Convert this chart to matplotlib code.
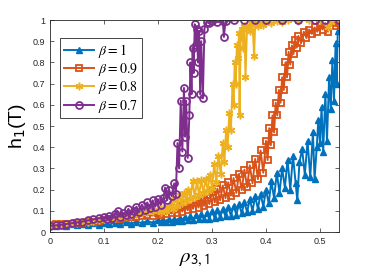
import matplotlib
matplotlib.use("Agg")
import matplotlib.pyplot as plt

# --- data ---
x_b1 = [0.000, 0.010, 0.020, 0.030, 0.040, 0.050, 0.060, 0.070, 0.080, 0.090, 0.100, 0.110,
        0.120, 0.130, 0.140, 0.150, 0.160, 0.170, 0.180, 0.190, 0.200, 0.205, 0.210, 0.215,
        0.220, 0.225, 0.230, 0.235, 0.240, 0.245, 0.250, 0.255, 0.260, 0.265, 0.270, 0.275,
        0.280, 0.285, 0.290, 0.295, 0.300, 0.305, 0.310, 0.315, 0.320, 0.325, 0.330, 0.335,
        0.340, 0.345, 0.350, 0.355, 0.360, 0.365, 0.370, 0.375, 0.380, 0.385, 0.390, 0.395,
        0.400, 0.405, 0.410, 0.415, 0.420, 0.425, 0.430, 0.435, 0.440, 0.445, 0.450, 0.455,
        0.458, 0.462, 0.467, 0.472, 0.477, 0.482, 0.487, 0.490, 0.494, 0.497, 0.500, 0.503,
        0.506, 0.510, 0.513, 0.517, 0.520, 0.523, 0.526, 0.529, 0.531, 0.533, 0.535]
y_b1 = [0.035, 0.030, 0.036, 0.031, 0.038, 0.032, 0.039, 0.034, 0.041, 0.035, 0.043, 0.037,
        0.045, 0.038, 0.048, 0.040, 0.050, 0.042, 0.053, 0.044, 0.056, 0.046, 0.058, 0.048,
        0.061, 0.050, 0.064, 0.052, 0.068, 0.054, 0.072, 0.056, 0.076, 0.058, 0.080, 0.060,
        0.086, 0.062, 0.092, 0.064, 0.098, 0.066, 0.104, 0.070, 0.110, 0.074, 0.118, 0.078,
        0.125, 0.082, 0.132, 0.088, 0.142, 0.094, 0.155, 0.100, 0.168, 0.110, 0.182, 0.120,
        0.200, 0.135, 0.240, 0.160, 0.280, 0.185, 0.300, 0.210, 0.340, 0.200, 0.360, 0.230,
        0.150, 0.330, 0.390, 0.270, 0.430, 0.260, 0.470, 0.250, 0.400, 0.530, 0.420, 0.590,
        0.380, 0.650, 0.430, 0.730, 0.580, 0.810, 0.620, 0.890, 0.700, 0.950, 1.000]

x_b09 = [0.000, 0.010, 0.020, 0.030, 0.040, 0.050, 0.060, 0.070, 0.080, 0.090, 0.100, 0.110,
         0.120, 0.130, 0.140, 0.150, 0.160, 0.170, 0.180, 0.190, 0.200, 0.205, 0.210, 0.215,
         0.220, 0.225, 0.230, 0.235, 0.240, 0.245, 0.250, 0.255, 0.260, 0.265, 0.270, 0.275,
         0.280, 0.285, 0.290, 0.295, 0.300, 0.305, 0.310, 0.315, 0.320, 0.325, 0.330, 0.335,
         0.340, 0.345, 0.350, 0.355, 0.360, 0.365, 0.370, 0.375, 0.380, 0.385, 0.390, 0.395,
         0.400, 0.403, 0.406, 0.409, 0.412, 0.415, 0.418, 0.421, 0.424, 0.427, 0.430, 0.433,
         0.436, 0.439, 0.442, 0.445, 0.448, 0.451, 0.454, 0.457, 0.460, 0.465, 0.470, 0.475,
         0.480, 0.485, 0.490, 0.495, 0.500, 0.505, 0.510, 0.515, 0.520, 0.525, 0.530, 0.535]
y_b09 = [0.035, 0.036, 0.038, 0.037, 0.040, 0.042, 0.044, 0.046, 0.049, 0.052, 0.056, 0.060,
         0.070, 0.062, 0.068, 0.072, 0.070, 0.076, 0.080, 0.078, 0.092, 0.080, 0.098, 0.084,
         0.104, 0.088, 0.112, 0.092, 0.120, 0.097, 0.128, 0.103, 0.138, 0.110, 0.150, 0.116,
         0.162, 0.124, 0.175, 0.132, 0.190, 0.140, 0.205, 0.150, 0.220, 0.160, 0.235, 0.172,
         0.255, 0.185, 0.275, 0.198, 0.295, 0.212, 0.315, 0.230, 0.345, 0.250, 0.385, 0.280,
         0.430, 0.340, 0.490, 0.410, 0.550, 0.470, 0.610, 0.550, 0.670, 0.610, 0.730, 0.670,
         0.800, 0.730, 0.850, 0.790, 0.880, 0.840, 0.905, 0.870, 0.925, 0.890, 0.945, 0.915,
         0.955, 0.935, 0.965, 0.945, 0.975, 0.955, 0.985, 0.945, 0.985, 0.990, 0.970, 1.000]

x_b08 = [0.000, 0.010, 0.020, 0.030, 0.040, 0.050, 0.060, 0.070, 0.080, 0.090, 0.100, 0.110,
         0.120, 0.130, 0.140, 0.150, 0.160, 0.170, 0.180, 0.190, 0.200, 0.205, 0.210, 0.215,
         0.220, 0.225, 0.228, 0.232, 0.236, 0.240, 0.244, 0.248, 0.252, 0.256, 0.260, 0.264,
         0.268, 0.272, 0.276, 0.280, 0.284, 0.288, 0.292, 0.296, 0.300, 0.304, 0.308, 0.312,
         0.316, 0.320, 0.323, 0.326, 0.329, 0.332, 0.335, 0.338, 0.340, 0.342, 0.344, 0.346,
         0.348, 0.350, 0.351, 0.353, 0.356, 0.358, 0.360, 0.362, 0.365, 0.370, 0.375, 0.378,
         0.380, 0.385, 0.390, 0.395, 0.400, 0.410, 0.420, 0.430, 0.440, 0.460, 0.480, 0.500,
         0.515, 0.520, 0.535]
y_b08 = [0.035, 0.036, 0.038, 0.040, 0.042, 0.045, 0.048, 0.050, 0.054, 0.057, 0.060, 0.064,
         0.068, 0.072, 0.076, 0.080, 0.085, 0.090, 0.095, 0.100, 0.105, 0.095, 0.112, 0.100,
         0.120, 0.150, 0.110, 0.160, 0.125, 0.175, 0.135, 0.185, 0.145, 0.200, 0.155, 0.240,
         0.165, 0.240, 0.175, 0.245, 0.185, 0.250, 0.195, 0.270, 0.210, 0.320, 0.235, 0.360,
         0.275, 0.420, 0.330, 0.480, 0.400, 0.560, 0.480, 0.700, 0.600, 0.800, 0.700, 0.880,
         0.820, 0.940, 0.550, 0.920, 0.960, 0.870, 0.970, 0.730, 0.975, 0.950, 0.985, 0.830,
         0.985, 0.970, 0.990, 0.975, 0.992, 0.985, 0.996, 0.990, 0.998, 0.995, 1.000, 0.998,
         0.965, 0.990, 1.000]

x_b07 = [0.000, 0.010, 0.020, 0.030, 0.040, 0.050, 0.060, 0.070, 0.080, 0.090, 0.100, 0.105,
         0.110, 0.115, 0.120, 0.125, 0.130, 0.135, 0.140, 0.145, 0.150, 0.155, 0.160, 0.165,
         0.170, 0.175, 0.180, 0.185, 0.190, 0.195, 0.200, 0.205, 0.210, 0.213, 0.217, 0.220,
         0.225, 0.230, 0.233, 0.236, 0.239, 0.242, 0.245, 0.248, 0.250, 0.252, 0.255, 0.258,
         0.260, 0.262, 0.264, 0.266, 0.268, 0.270, 0.272, 0.274, 0.276, 0.278, 0.280, 0.283,
         0.286, 0.290, 0.295, 0.300, 0.310, 0.320, 0.322, 0.325, 0.340, 0.360, 0.380, 0.400,
         0.430, 0.460, 0.490, 0.510, 0.535]
y_b07 = [0.030, 0.032, 0.035, 0.038, 0.042, 0.046, 0.050, 0.055, 0.060, 0.065, 0.070, 0.062,
         0.075, 0.066, 0.085, 0.100, 0.072, 0.090, 0.080, 0.110, 0.085, 0.100, 0.120, 0.095,
         0.130, 0.105, 0.140, 0.112, 0.150, 0.120, 0.155, 0.128, 0.160, 0.210, 0.150, 0.200,
         0.170, 0.230, 0.180, 0.420, 0.300, 0.620, 0.380, 0.680, 0.450, 0.620, 0.350, 0.550,
         0.800, 0.650, 0.870, 0.750, 0.980, 0.880, 0.960, 0.800, 0.950, 0.650, 0.900, 0.630,
         0.960, 0.990, 0.985, 0.995, 0.990, 0.995, 0.920, 0.995, 0.998, 1.000, 0.999, 1.000,
         1.000, 1.000, 1.000, 1.000, 1.000]

labels = [r'$\beta = 1$', r'$\beta = 0.9$', r'$\beta = 0.8$', r'$\beta = 0.7$']
colors = ['#0072BD', '#D95319', '#EDB120', '#7E2F8E']

plt.rcParams['font.family'] = ['Liberation Sans', 'DejaVu Sans']
plt.rcParams['mathtext.fontset'] = 'stix'

fig = plt.figure(figsize=(3.74, 2.78), dpi=100)
ax = fig.add_axes([0.134, 0.165, 0.772, 0.763])

ax.plot(x_b1, y_b1, '-', color=colors[0], marker='^', ms=5, lw=1.4,
        mfc=colors[0], mec=colors[0], label=labels[0])
ax.plot(x_b09, y_b09, '-', color=colors[1], marker='s', ms=5, lw=1.4,
        mfc='none', mew=1.3, mec=colors[1], label=labels[1])
ax.plot(x_b08, y_b08, '-', color=colors[2], marker=(6, 2, 0), ms=5.5, lw=1.4,
        mew=1.1, mec=colors[2], label=labels[2])
ax.plot(x_b07, y_b07, '-', color=colors[3], marker='o', ms=5, lw=1.4,
        mfc='none', mew=1.3, mec=colors[3], label=labels[3])

ax.set_xlim(0, 0.535)
ax.set_ylim(0, 1)
ax.set_xticks([0, 0.1, 0.2, 0.3, 0.4, 0.5])
ax.set_xticklabels(['0', '0.1', '0.2', '0.3', '0.4', '0.5'])
ax.set_yticks([i / 10 for i in range(11)])
ax.set_yticklabels(['0', '0.1', '0.2', '0.3', '0.4', '0.5', '0.6', '0.7', '0.8', '0.9', '1'])
ax.tick_params(direction='in', top=True, right=True, labelsize=6.5,
               colors='#262626', length=3, width=0.5)
for s in ax.spines.values():
    s.set_linewidth(0.6)
    s.set_color('#262626')

ax.set_ylabel(r'h$_1$(T)', fontsize=14, labelpad=3, math_fontfamily='dejavusans')
ax.set_xlabel(r'$\rho_{\mathsf{3,1}}$', fontsize=15, labelpad=3)

leg = ax.legend(loc='upper left', bbox_to_anchor=(0.035, 0.915), borderaxespad=0,
                fontsize=10, fancybox=False, framealpha=1, edgecolor='#262626',
                handlelength=2.2, handletextpad=0.3, borderpad=0.25, labelspacing=0.1)
leg.get_frame().set_linewidth(0.6)

fig.savefig('out.png', dpi=100)
